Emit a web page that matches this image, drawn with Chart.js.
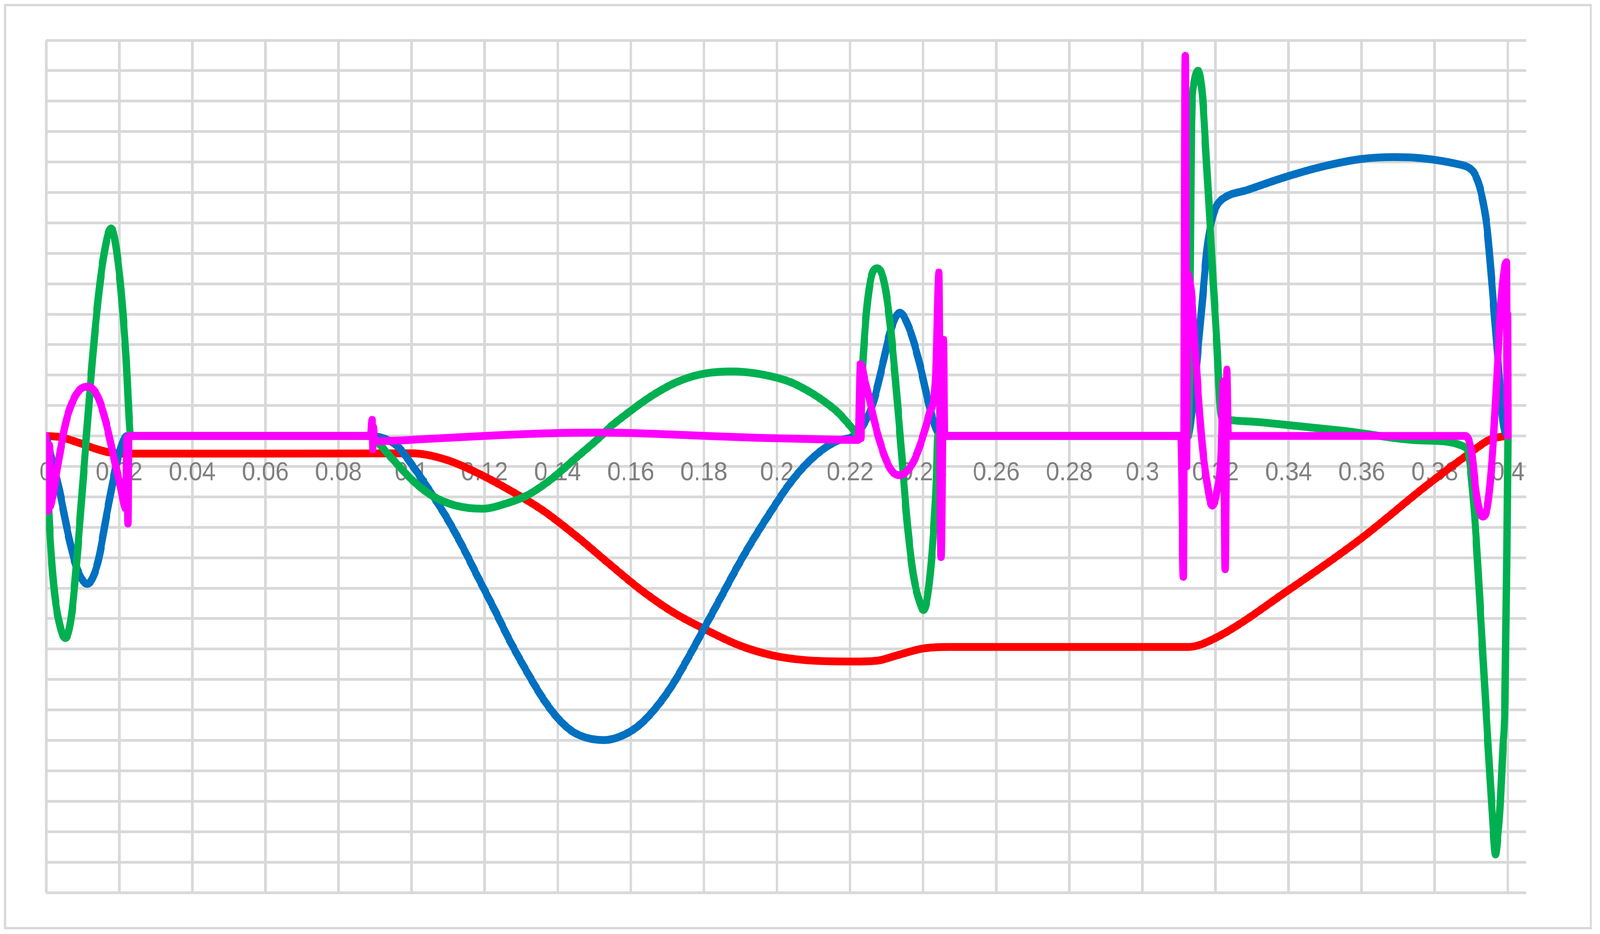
<!DOCTYPE html>
<html>
<head>
<meta charset="utf-8">
<title>Chart</title>
<script src="https://cdn.jsdelivr.net/npm/chart.js@4.4.1/dist/chart.umd.min.js"></script>
<style>
    html, body { margin: 0; padding: 0; width: 100%; height: 100%; background: #fff; overflow: hidden; }
    #viewport { position: fixed; left: 0; top: 0; width: 100vw; height: 100vh; overflow: hidden; }
    #wrap  { position: absolute; left: 0; top: 0; width: 4379px; height: 2390px; transform-origin: 0 0; }
    #frame { position: absolute; left: 11px; top: 10px; width: 4346px; height: 2368px;
             box-sizing: border-box; border: 6px solid #d9d9d9; pointer-events: none; }
    canvas { position: absolute; left: 0; top: 0; }
</style>
</head>
<body>
<div id="viewport">
    <div id="wrap">
        <canvas id="chart" width="4379" height="2390"></canvas>
        <div id="frame"></div>
    </div>
</div>
<script>
// ── Data ──────────────────────────────────────────────────────
const xTicks = [0, 0.02, 0.04, 0.06, 0.08, 0.1, 0.12, 0.14, 0.16, 0.18, 0.2,
                0.22, 0.24, 0.26, 0.28, 0.3, 0.32, 0.34, 0.36, 0.38, 0.4];

const blueX = [0, 0.0035, 0.0063, 0.0084, 0.0113, 0.0141, 0.0169, 0.0197, 0.0222,
    0.088, 0.0958, 0.1003, 0.1047, 0.1092, 0.1137, 0.1181, 0.1226, 0.127, 0.1315,
    0.136, 0.1404, 0.1449, 0.1527, 0.1583, 0.1628, 0.1672, 0.1717, 0.1761, 0.1806,
    0.1851, 0.1895, 0.194, 0.1985, 0.2029, 0.2074, 0.2119, 0.2163, 0.2214, 0.2241,
    0.2264, 0.2291, 0.2311, 0.2336, 0.2364, 0.2391, 0.2414, 0.2434, 0.2448,
    0.3124, 0.3137, 0.3151, 0.3164, 0.3177, 0.3191, 0.3204, 0.3222, 0.3289, 0.34,
    0.3496, 0.36, 0.3691, 0.3748, 0.38, 0.3863, 0.3889, 0.3906, 0.392, 0.3932,
    0.3943, 0.3957, 0.3973, 0.3987, 0.4];
const blueY = [0, -1.69, -3.36, -4.33, -4.86, -4.19, -2.38, -0.71, 0,
    0, -0.3, -0.98, -1.75, -2.6, -3.57, -4.62, -5.68, -6.75, -7.73,
    -8.63, -9.32, -9.77, -9.99, -9.81, -9.45, -8.88, -8.12, -7.2, -6.2,
    -5.2, -4.22, -3.3, -2.45, -1.66, -1.0, -0.5, -0.17, 0.03, 0.46,
    1.12, 2.45, 3.47, 4.05, 3.47, 2.34, 1.12, 0.28, 0,
    0, 1.0, 2.73, 4.45, 6.17, 7.16, 7.58, 7.81, 8.09, 8.54,
    8.86, 9.10, 9.16, 9.14, 9.07, 8.93, 8.84, 8.67, 8.29, 7.69,
    6.83, 4.88, 2.48, 0.41, 0];

const greenX = [0, 0.0007, 0.0021, 0.0039, 0.0053, 0.007, 0.0091, 0.0113, 0.0134,
    0.0155, 0.0178, 0.02, 0.0218, 0.0232,
    0.089, 0.0904, 0.094, 0.1003, 0.1056, 0.1119, 0.1195, 0.1253, 0.1315, 0.1378,
    0.1449, 0.152, 0.1544, 0.1588, 0.1633, 0.1678, 0.1722, 0.1767, 0.1812, 0.1874,
    0.1945, 0.2035, 0.2079, 0.2124, 0.2169, 0.2199, 0.2224,
    0.2234, 0.2244, 0.2257, 0.2274, 0.2291, 0.2307, 0.2324, 0.2341,
    0.2357, 0.2374, 0.2391, 0.2401, 0.2414, 0.2427, 0.2436, 0.244,
    0.3126, 0.3131, 0.3134, 0.3141, 0.3152, 0.3164, 0.3174, 0.3184, 0.3194, 0.3204,
    0.3211, 0.3216, 0.3224, 0.3324, 0.355, 0.3773, 0.3887, 0.3907, 0.3924, 0.3941,
    0.3955, 0.3962, 0.3966, 0.3971, 0.3978, 0.3986, 0.3992, 0.3997, 0.4];
const greenY = [0, -2.38, -4.89, -6.28, -6.64, -5.86, -3.07, 0.40, 3.46,
    5.69, 6.82, 5.41, 2.77, 0,
    0, -0.16, -0.65, -1.46, -1.96, -2.28, -2.39, -2.24, -1.96, -1.46,
    -0.73, 0.01, 0.3, 0.72, 1.12, 1.47, 1.75, 1.95, 2.07, 2.12,
    2.05, 1.78, 1.52, 1.18, 0.75, 0.35, 0.05,
    2.25, 3.95, 5.17, 5.51, 5.17, 3.95, 1.87, -0.57,
    -2.93, -4.63, -5.48, -5.72, -5.09, -3.39, -1.52, 0,
    0, 5.92, 10.22, 11.57, 12.0, 11.2, 9.23, 7.16, 4.95, 2.97,
    1.2, 0.62, 0.55, 0.45, 0.17, -0.15, -0.39, -2.3, -5.6, -9.2,
    -12.0, -13.3, -13.75, -13.3, -12.3, -10.29, -8.7, -3.9, 0];

const redX = [0, 0.004, 0.0084, 0.0141, 0.0183, 0.0225, 0.06, 0.1003, 0.1092, 0.1181,
    0.127, 0.136, 0.1449, 0.1538, 0.1628, 0.1717, 0.1806, 0.1895, 0.1985, 0.2074,
    0.2208, 0.2275, 0.233, 0.24, 0.247, 0.28, 0.3126, 0.3196, 0.34, 0.3598, 0.3774,
    0.3894, 0.395, 0.399, 0.4];
const redY = [0, -0.04, -0.2, -0.44, -0.56, -0.58, -0.58, -0.57, -0.77, -1.22,
    -1.79, -2.45, -3.27, -4.17, -5.06, -5.80, -6.37, -6.87, -7.20, -7.36,
    -7.41, -7.38, -7.2, -6.98, -6.93, -6.93, -6.93, -6.66, -5.06, -3.37, -1.66,
    -0.58, -0.12, -0.01, 0];

const magentaX = [0, 0.0006, 0.0009, 0.0012, 0.0014, 0.0028, 0.0042, 0.0056, 0.0077,
    0.0099, 0.0116, 0.0141, 0.0162, 0.0183, 0.0204, 0.0218, 0.0222, 0.0224, 0.0226,
    0.0888, 0.0892, 0.0894, 0.0896, 0.0899, 0.091, 0.1053, 0.1231, 0.141, 0.15,
    0.1588, 0.1767, 0.1945, 0.2124, 0.2222, 0.2228, 0.223, 0.2232, 0.2237, 0.2251,
    0.2267, 0.2284, 0.2301, 0.2317, 0.2337, 0.2357, 0.2377, 0.2397, 0.2417, 0.2434,
    0.2443, 0.2449, 0.2456, 0.2459,
    0.3105, 0.3112, 0.3117, 0.3121, 0.3125, 0.3129, 0.3134, 0.3144, 0.3154, 0.3164,
    0.3174, 0.3191, 0.3204, 0.3214, 0.3222, 0.3226, 0.3231, 0.3235,
    0.3884, 0.3901, 0.3911, 0.3921, 0.3931, 0.3944, 0.3957, 0.3971, 0.3981, 0.3996,
    0.3998, 0.3999, 0.4];
const magentaY = [0, -2.46, -0.3, -2.3, -2.24, -1.27, -0.29, 0.54, 1.24,
    1.58, 1.62, 1.31, 0.54, -0.57, -1.69, -2.38, -0.05, -2.88, 0,
    0, 0.53, -0.44, 0.3, -0.17, -0.17, -0.09, 0.02, 0.10, 0.11,
    0.10, 0.02, -0.06, -0.11, -0.13, 2.36, -0.07, 2.3, 2.0, 1.31,
    0.46, -0.29, -0.86, -1.19, -1.29, -1.14, -0.76, -0.10, 0.74, 1.87,
    5.37, -3.98, 3.16, 0,
    0, -4.63, 12.49, -1.0, 5.31, 5.1, 4.70, 2.86, 1.14, -0.34,
    -1.32, -2.29, -1.81, -0.83, 1.8, -4.38, 2.18, 0,
    0, -0.55, -1.66, -2.38, -2.65, -2.31, -0.71, 2.17, 4.4, 5.71,
    1.0, 4.0, 0];

// ── Stretch the 4379×2390 layout over the real viewport ───────
const DESIGN_W = 4379, DESIGN_H = 2390;
const sx = (window.innerWidth  / DESIGN_W) || 1;
const sy = (window.innerHeight / DESIGN_H) || 1;
document.getElementById('wrap').style.transform = 'scale(' + sx + ',' + sy + ')';

// ── Helpers ───────────────────────────────────────────────────
const toPoints = (xs, ys) => xs.map((x, i) => ({ x: x, y: ys[i] }));

const GRID = '#d9d9d9';

function series(label, xs, ys, color, order) {
    return {
        label: label,
        data: toPoints(xs, ys),
        borderColor: color,
        backgroundColor: color,
        borderWidth: 20,
        borderCapStyle: 'round',
        borderJoinStyle: 'round',
        cubicInterpolationMode: 'monotone',
        pointRadius: 0,
        pointHoverRadius: 0,
        fill: false,
        clip: 0,
        order: order,
    };
}

// ── Chart ─────────────────────────────────────────────────────
new Chart(document.getElementById('chart').getContext('2d'), {
    type: 'line',
    data: {
        datasets: [
            series('Magenta', magentaX, magentaY, '#FF00FF', 0),
            series('Green',   greenX,   greenY,   '#00B050', 1),
            series('Blue',    blueX,    blueY,    '#0070C0', 2),
            series('Red',     redX,     redY,     '#FF0000', 3),
        ],
    },
    options: {
        responsive: false,
        devicePixelRatio: (window.devicePixelRatio || 1) * Math.max(sx, sy),
        animation: false,
        events: [],
        layout: { padding: { left: 126, right: 202, top: 103, bottom: 106 } },
        plugins: {
            legend:  { display: false },
            tooltip: { enabled: false },
        },
        scales: {
            x: {
                type: 'linear',
                min: 0,
                max: 0.405,
                position: { y: 0 },
                border: { display: false },
                grid: { color: GRID, lineWidth: 7, drawTicks: false },
                afterBuildTicks: axis => {
                    axis.ticks = xTicks.map(v => ({ value: v }));
                },
                ticks: {
                    color: '#808080',
                    padding: 56,
                    autoSkip: false,
                    maxRotation: 0,
                    minRotation: 0,
                    font: { family: 'Liberation Sans', size: 66 },
                    callback: v => String(parseFloat(Number(v).toFixed(2))),
                },
            },
            y: {
                type: 'linear',
                min: -15,
                max: 13,
                border: { display: false },
                grid: { color: GRID, lineWidth: 7, drawTicks: false },
                ticks: { display: false, stepSize: 1 },
            },
        },
    },
});
</script>
</body>
</html>
